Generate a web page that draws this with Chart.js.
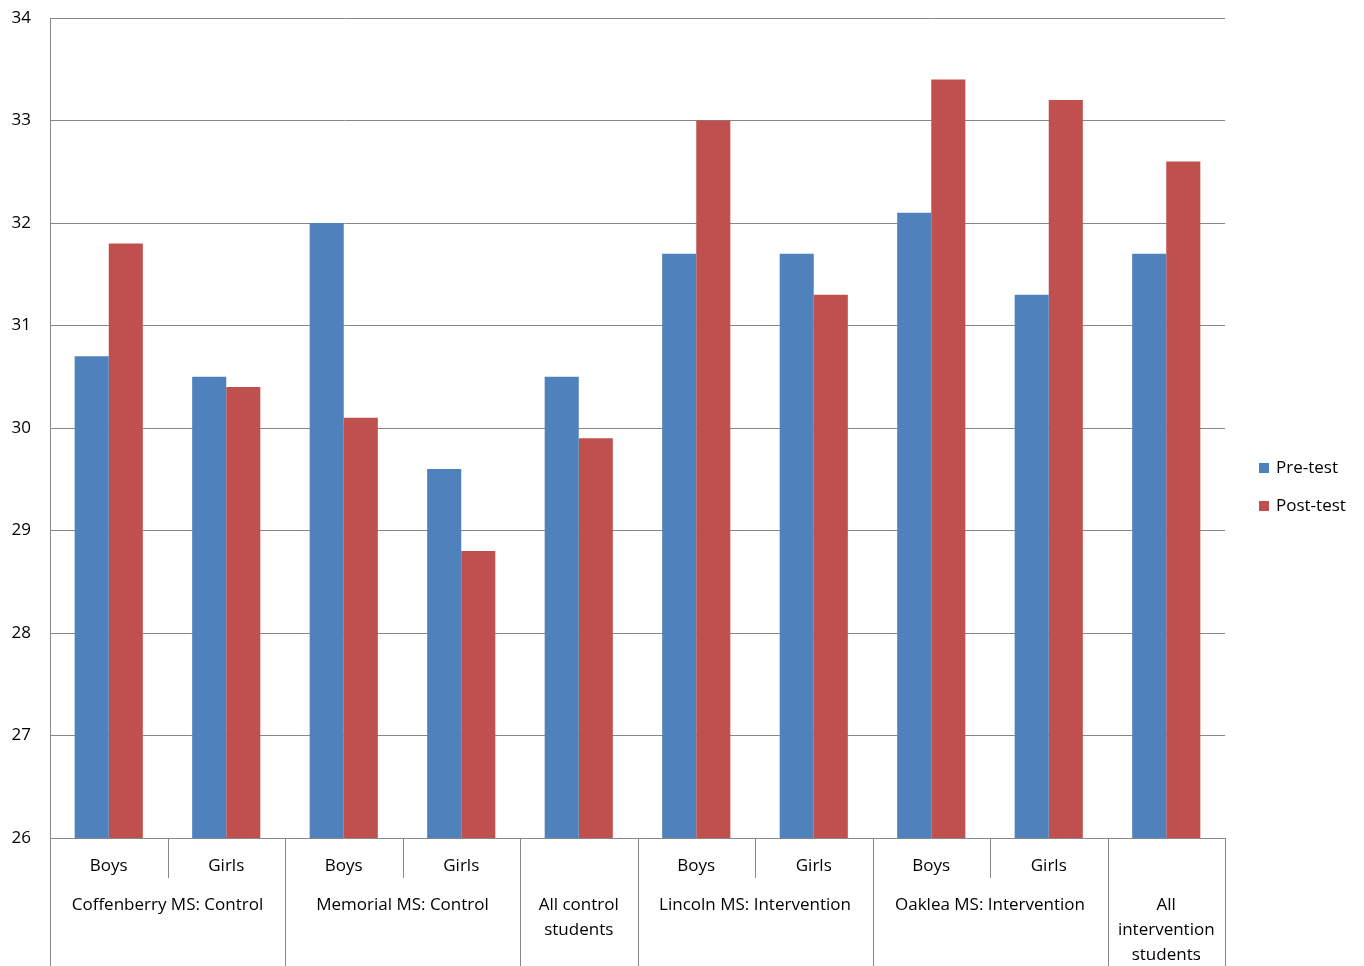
<!DOCTYPE html>
<html>
<head>
<meta charset="utf-8">
<script src="https://cdn.jsdelivr.net/npm/chart.js@4"></script>
<style>
  html, body { margin: 0; padding: 0; background: #fff; }
  #wrap { width: 1364px; height: 966px; }
</style>
</head>
<body>
<div id="wrap"><canvas id="chart"></canvas></div>
<script>
const subLabels = ['Boys', 'Girls', 'Boys', 'Girls', '', 'Boys', 'Girls', 'Boys', 'Girls', ''];
const groups = [
    { name: ['Coffenberry MS: Control'], from: 0, to: 1 },
    { name: ['Memorial MS: Control'], from: 2, to: 3 },
    { name: ['All control', 'students'], from: 4, to: 4 },
    { name: ['Lincoln MS: Intervention'], from: 5, to: 6 },
    { name: ['Oaklea MS: Intervention'], from: 7, to: 8 },
    { name: ['All', 'intervention', 'students'], from: 9, to: 9 }
];
const preTest = [30.7, 30.5, 32.0, 29.6, 30.5, 31.7, 31.7, 32.1, 31.3, 31.7];
const postTest = [31.8, 30.4, 30.1, 28.8, 29.9, 33.0, 31.3, 33.4, 33.2, 32.6];
const yTicks = [26, 27, 28, 29, 30, 31, 32, 33, 34];

const FONT = '"Open Sans", "Noto Sans", sans-serif';

// draws the two-level category axis and the legend
const axisPlugin = {
    id: 'multiAxis',
    afterDraw(chart) {
        const ctx = chart.ctx;
        const area = chart.chartArea;
        const w = (area.right - area.left) / subLabels.length;
        ctx.save();
        ctx.strokeStyle = '#888';
        ctx.lineWidth = 1;
        ctx.fillStyle = '#000';
        ctx.font = '17px ' + FONT;
        ctx.textAlign = 'center';
        ctx.textBaseline = 'middle';

        // sub labels and short dividers
        subLabels.forEach((lab, i) => {
            const cx = area.left + (i + 0.5) * w;
            if (lab) ctx.fillText(lab, cx, area.bottom + 28);
        });
        for (let i = 1; i < subLabels.length; i++) {
            const x = Math.round(area.left + i * w) + 0.5;
            ctx.beginPath();
            ctx.moveTo(x, area.bottom);
            ctx.lineTo(x, area.bottom + 40);
            ctx.stroke();
        }
        // group labels and long dividers
        const bottom = chart.height;
        [area.left, area.right].forEach(xx => {
            const x = Math.round(xx) + 0.5;
            ctx.beginPath();
            ctx.moveTo(x, area.bottom);
            ctx.lineTo(x, bottom);
            ctx.stroke();
        });
        groups.forEach(g => {
            const l = area.left + g.from * w;
            const r = area.left + (g.to + 1) * w;
            const cx = (l + r) / 2;
            g.name.forEach((line, k) => ctx.fillText(line, cx, area.bottom + 67 + k * 25));
            if (g.to < subLabels.length - 1) {
                const x = Math.round(r) + 0.5;
                ctx.beginPath();
                ctx.moveTo(x, area.bottom);
                ctx.lineTo(x, bottom);
                ctx.stroke();
            }
        });

        // legend
        ctx.textAlign = 'left';
        chart.data.datasets.forEach((ds, i) => {
            const y = 468 + i * 38;
            ctx.fillStyle = ds.backgroundColor;
            ctx.fillRect(1259, y - 5, 10, 10);
            ctx.fillStyle = '#000';
            ctx.fillText(ds.label, 1276, y);
        });
        ctx.restore();
    }
};

new Chart(document.getElementById('chart'), {
    type: 'bar',
    data: {
        labels: subLabels.map((s, i) => s || ('c' + i)),
        datasets: [
            { label: 'Pre-test', data: preTest, backgroundColor: '#4f81bd' },
            { label: 'Post-test', data: postTest, backgroundColor: '#c0504d' }
        ]
    },
    options: {
        responsive: true,
        maintainAspectRatio: false,
        animation: false,
        layout: { padding: { top: 18, right: 139, bottom: 128, left: 0 } },
        plugins: { legend: { display: false }, tooltip: { enabled: false } },
        datasets: { bar: { categoryPercentage: 0.58, barPercentage: 1.0 } },
        scales: {
            x: { display: false },
            y: {
                min: 26,
                max: 34,
                afterFit: s => { s.width = 50; s.paddingTop = 0; s.paddingBottom = 0; },
                afterBuildTicks: s => { s.ticks = yTicks.map(v => ({ value: v })); },
                grid: { color: '#888', drawTicks: false },
                border: { color: '#888' },
                ticks: { color: '#000', font: { size: 17, family: FONT }, padding: 19 }
            }
        }
    },
    plugins: [axisPlugin]
});
</script>
</body>
</html>
